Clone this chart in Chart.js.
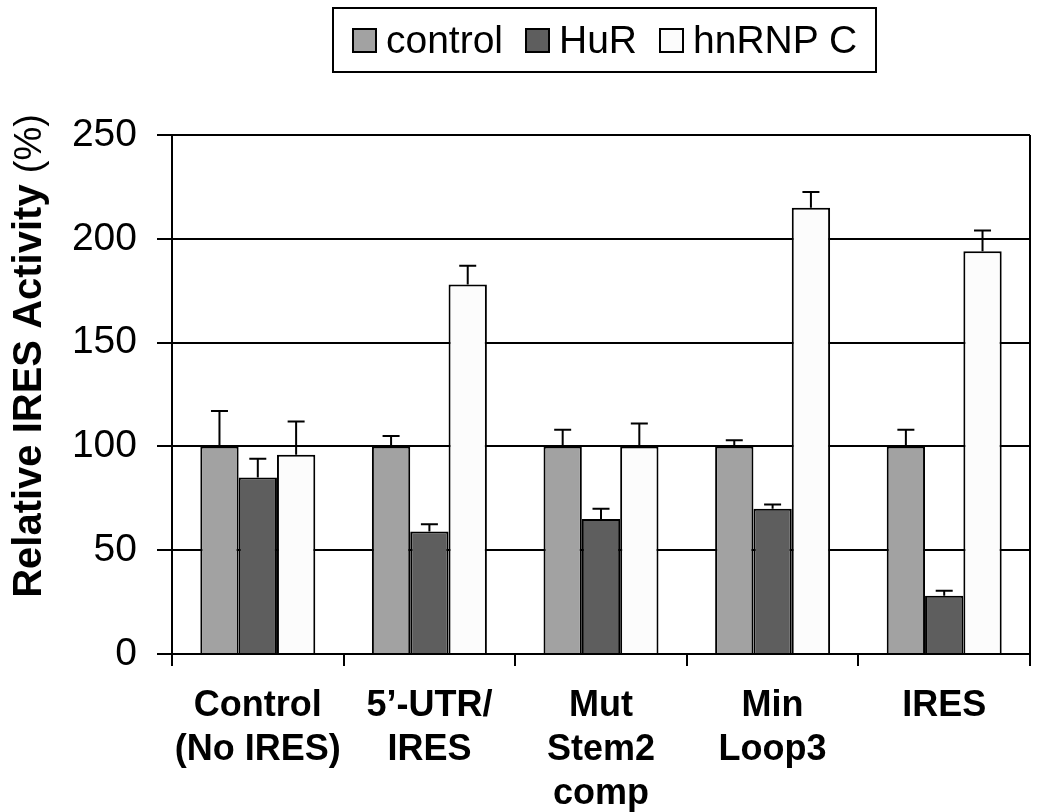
<!DOCTYPE html>
<html>
<head>
<meta charset="utf-8">
<script src="https://cdn.jsdelivr.net/npm/chart.js@4.4.1/dist/chart.umd.min.js"></script>
<style>
  body { margin: 0; background: #fff; }
  #wrap { position: relative; width: 1050px; height: 812px; }
  #legend {
    position: absolute; left: 332px; top: 7px; width: 541px; height: 62px;
    border: 2px solid #000; display: flex; align-items: center; justify-content: center;
    font-family: "Liberation Sans", Arial, sans-serif; font-size: 39px; color: #000;
  }
  .item { display: flex; align-items: center; margin: 0 11px; }
  .swatch { width: 21px; height: 21px; border: 2px solid #000; margin-right: 9px; }
</style>
</head>
<body>
<div id="wrap">
  <canvas id="ires" width="1050" height="812"></canvas>
  <div id="legend"></div>
</div>
<script>
// Variables
const groupLabels = [["Control", "(No IRES)"], ["5’-UTR/", "IRES"], ["Mut", "Stem2", "comp"], ["Min", "Loop3"], ["IRES"]];
const seriesNames = ["control", "HuR", "hnRNP C"];
const controlValues = [100, 100, 100, 100, 100];
const controlErrors = [17, 5, 8, 3, 8];
const hurValues = [85, 59, 65, 70, 28];
const hurErrors = [9, 3.5, 5, 2, 2.5];
const hnrnpValues = [96, 178, 100, 215, 194];
const hnrnpErrors = [16, 9, 11, 7.5, 10];
const yTicks = [0, 50, 100, 150, 200, 250];
const barColors = ["#a2a2a2", "#5e5e5e", "#fcfcfc"];

const FONT = "'Liberation Sans', Arial, sans-serif";

// ::::: legend (box with the three series) :::::
const legendBox = document.querySelector("#legend");
seriesNames.forEach((name, i) => {
    legendBox.innerHTML += `<div class="item"><div class="swatch" style="background:${barColors[i]}"></div>${name}</div>`;
});

// ::::: error bars, only upward :::::
const errorBars = {
    id: "errorBars",
    afterDatasetsDraw(chart) {
        const ctx = chart.ctx;
        const y = chart.scales.y;
        ctx.save();
        ctx.strokeStyle = "#000";
        ctx.lineWidth = 2;
        chart.data.datasets.forEach((ds, i) => {
            chart.getDatasetMeta(i).data.forEach((bar, j) => {
                const top = y.getPixelForValue(ds.data[j] + ds.errors[j]);
                ctx.beginPath();
                ctx.moveTo(bar.x, bar.y);
                ctx.lineTo(bar.x, top);
                ctx.moveTo(bar.x - 8.5, top);
                ctx.lineTo(bar.x + 8.5, top);
                ctx.stroke();
            });
        });
        ctx.restore();
    }
};

// ::::: right border + y title (bold part and plain "(%)") :::::
const frame = {
    id: "frame",
    afterDraw(chart) {
        const ctx = chart.ctx;
        const a = chart.chartArea;
        ctx.save();
        ctx.strokeStyle = "#000";
        ctx.lineWidth = 2;
        ctx.beginPath();
        ctx.moveTo(a.right, a.top);
        ctx.lineTo(a.right, a.bottom);
        ctx.stroke();

        const boldPart = "Relative IRES Activity ";
        const plainPart = "(%)";
        ctx.translate(41, 356);
        ctx.rotate(-Math.PI / 2);
        ctx.fillStyle = "#000";
        ctx.textBaseline = "alphabetic";
        ctx.font = "bold 40px " + FONT;
        const w1 = ctx.measureText(boldPart).width;
        ctx.font = "38px " + FONT;
        const w2 = ctx.measureText(plainPart).width;
        const start = -(w1 + w2) / 2;
        ctx.font = "bold 40px " + FONT;
        ctx.fillText(boldPart, start, 0);
        ctx.font = "38px " + FONT;
        ctx.fillText(plainPart, start + w1, 0);
        ctx.restore();
    }
};

function makeSet(i, values, errors) {
    return {
        label: seriesNames[i],
        data: values,
        errors: errors,
        backgroundColor: barColors[i],
        borderColor: "#000",
        borderWidth: 2,
        categoryPercentage: 0.67,
        barPercentage: 1.0
    };
}

var ctx = document.getElementById("ires");
var iresChart = new Chart(ctx, {
    type: "bar",
    data: {
        labels: groupLabels,
        datasets: [
            makeSet(0, controlValues, controlErrors),
            makeSet(1, hurValues, hurErrors),
            makeSet(2, hnrnpValues, hnrnpErrors)
        ]
    },
    options: {
        responsive: false,
        animation: false,
        layout: { padding: { top: 135, right: 20, left: 0, bottom: 0 } },
        scales: {
            x: {
                grid: { offset: true, drawOnChartArea: false, color: "#000", lineWidth: 2, tickLength: 12 },
                border: { color: "#000", width: 2 },
                ticks: {
                    color: "#000",
                    padding: 18,
                    maxRotation: 0,
                    font: { family: FONT, size: 36, weight: "bold", lineHeight: 1.22 }
                },
                afterFit(scale) { scale.height = 158; }
            },
            y: {
                min: 0,
                max: 250,
                afterBuildTicks(scale) { scale.ticks = yTicks.map(v => ({ value: v })); },
                grid: { color: "#000", lineWidth: 2, tickLength: 15 },
                border: { color: "#000", width: 2 },
                ticks: {
                    color: "#000",
                    padding: 20,
                    font: { family: FONT, size: 39 }
                },
                afterFit(scale) { scale.width = 172; }
            }
        },
        plugins: {
            legend: { display: false },
            tooltip: { enabled: false }
        }
    },
    plugins: [errorBars, frame]
});
</script>
</body>
</html>
